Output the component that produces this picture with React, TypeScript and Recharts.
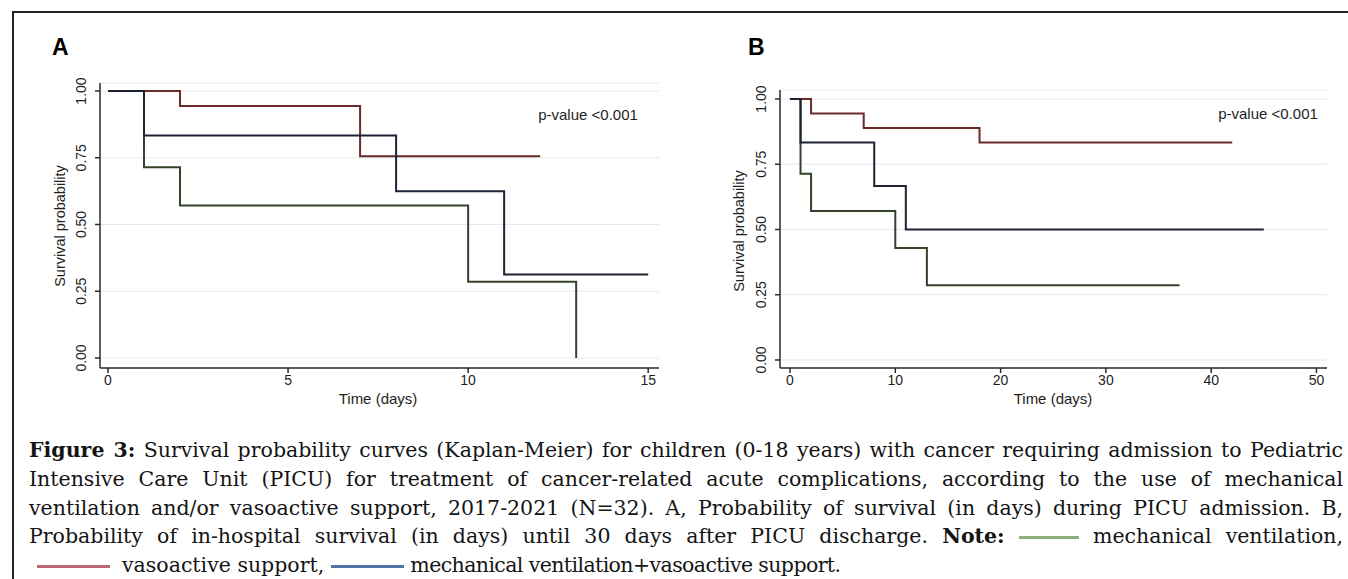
import { LineChart, Line, XAxis, YAxis, CartesianGrid } from 'recharts';

// A: survival during PICU admission (days)
const A_VASO_DAYS = [0, 2, 7, 12];
const A_VASO_SURV = [1, 0.944, 0.756, 0.756];
const A_MVVA_DAYS = [0, 1, 8, 11, 15];
const A_MVVA_SURV = [1, 0.833, 0.625, 0.3125, 0.3125];
const A_MV_DAYS = [0, 1, 2, 10, 13];
const A_MV_SURV = [1, 0.714, 0.571, 0.286, 0];
const A_X_TICKS = [0, 5, 10, 15];

// B: in-hospital survival until 30 days after PICU discharge
const B_VASO_DAYS = [0, 2, 7, 18, 42];
const B_VASO_SURV = [1, 0.944, 0.889, 0.833, 0.833];
const B_MVVA_DAYS = [0, 1, 8, 11, 45];
const B_MVVA_SURV = [1, 0.833, 0.667, 0.5, 0.5];
const B_MV_DAYS = [0, 1, 2, 10, 13, 37];
const B_MV_SURV = [1, 0.714, 0.571, 0.429, 0.286, 0.286];
const B_X_TICKS = [0, 10, 20, 30, 40, 50];

const Y_TICKS = [0, 0.25, 0.5, 0.75, 1];

const COLORS = { mv: '#34432a', vaso: '#6b2b2b', mvva: '#1c2335' };
const AXIS = '#2b2b2b';
const SANS = '"Liberation Sans", Arial, sans-serif';

const toPoints = (days: number[], surv: number[]) => days.map((t, i) => ({ t, s: surv[i] }));

const YTick = (props: any) => {
  const { x, y, payload } = props;
  const cx = x - 11.5;
  return (
    <text
      x={cx}
      y={y}
      transform={`rotate(-90 ${cx} ${y})`}
      textAnchor="middle"
      dominantBaseline="central"
      fontSize={14}
      fontFamily={SANS}
      fill="#1e1e1e"
    >
      {Number(payload.value).toFixed(2)}
    </text>
  );
};

function KmPanel({ left, width, plotTop, plotRight, domainX, domainY, ticksX, series }: any) {
  return (
    <div style={{ position: 'absolute', left, top: 0 }}>
      <LineChart width={width} height={400} margin={{ top: plotTop, right: plotRight, bottom: 0, left: 0 }}>
        <CartesianGrid vertical={false} stroke="#e2eaec" />
        <XAxis
          type="number"
          dataKey="t"
          domain={domainX}
          ticks={ticksX}
          interval={0}
          allowDataOverflow
          height={32}
          tickSize={5}
          axisLine={{ stroke: AXIS, strokeWidth: 1.5 }}
          tickLine={{ stroke: AXIS, strokeWidth: 1.5 }}
          tick={{ fill: '#1e1e1e', fontSize: 14, fontFamily: SANS }}
        />
        <YAxis
          type="number"
          domain={domainY}
          ticks={Y_TICKS}
          interval={0}
          allowDataOverflow
          width={100}
          tickSize={5}
          axisLine={{ stroke: AXIS, strokeWidth: 1.5 }}
          tickLine={{ stroke: AXIS, strokeWidth: 1.5 }}
          tick={YTick}
        />
        {series.map((sr: any) => (
          <Line
            key={sr.name}
            data={sr.data}
            dataKey="s"
            type="stepAfter"
            stroke={sr.color}
            strokeWidth={2}
            dot={false}
            isAnimationActive={false}
          />
        ))}
      </LineChart>
    </div>
  );
}

const label = (text: string, cx: number, cy: number, extra: any = {}) => (
  <div
    style={{
      position: 'absolute',
      left: cx,
      top: cy,
      transform: 'translate(-50%, -50%)',
      whiteSpace: 'nowrap',
      fontFamily: SANS,
      fontSize: 14.5,
      color: '#1e1e1e',
      lineHeight: 1,
      ...extra,
    }}
  >
    {text}
  </div>
);

const swatch = (color: string, w: number) => (
  <span style={{ display: 'inline-block', width: w, height: 3, background: color, verticalAlign: 'middle' }} />
);

const lineStyle: any = { textAlign: 'justify', textAlignLast: 'justify', height: 28.75 };

export default function App() {
  const seriesA = [
    { name: 'mv', color: COLORS.mv, data: toPoints(A_MV_DAYS, A_MV_SURV) },
    { name: 'vaso', color: COLORS.vaso, data: toPoints(A_VASO_DAYS, A_VASO_SURV) },
    { name: 'mvva', color: COLORS.mvva, data: toPoints(A_MVVA_DAYS, A_MVVA_SURV) },
  ];
  const seriesB = [
    { name: 'mv', color: COLORS.mv, data: toPoints(B_MV_DAYS, B_MV_SURV) },
    { name: 'vaso', color: COLORS.vaso, data: toPoints(B_VASO_DAYS, B_VASO_SURV) },
    { name: 'mvva', color: COLORS.mvva, data: toPoints(B_MVVA_DAYS, B_MVVA_SURV) },
  ];

  return (
    <div style={{ position: 'absolute', left: 0, top: 0, width: 1348, height: 579, background: '#fff', overflow: 'hidden' }}>
      <div
        style={{
          position: 'absolute',
          left: 12,
          top: 11,
          width: 1348,
          height: 600,
          borderTop: '2px solid #222',
          borderLeft: '2px solid #222',
        }}
      />

      <KmPanel
        left={0}
        width={680}
        plotTop={83}
        plotRight={21}
        domainX={[-0.222, 15.3]}
        domainY={[-0.0375, 1.03]}
        ticksX={A_X_TICKS}
        series={seriesA}
      />
      <KmPanel
        left={680}
        width={668}
        plotTop={90}
        plotRight={21}
        domainX={[-0.95, 51]}
        domainY={[-0.0307, 1.0345]}
        ticksX={B_X_TICKS}
        series={seriesB}
      />

      <div style={{ position: 'absolute', left: 52, top: 36, fontFamily: SANS, fontWeight: 700, fontSize: 23, lineHeight: 1 }}>A</div>
      <div style={{ position: 'absolute', left: 748, top: 36, fontFamily: SANS, fontWeight: 700, fontSize: 23, lineHeight: 1 }}>B</div>

      {label('p-value <0.001', 588, 114, { fontSize: 15 })}
      {label('p-value <0.001', 1268, 113, { fontSize: 15 })}

      {label('Survival probability', 60, 226, { transform: 'translate(-50%, -50%) rotate(-90deg)' })}
      {label('Survival probability', 739, 231, { transform: 'translate(-50%, -50%) rotate(-90deg)' })}
      {label('Time (days)', 378, 398, { fontSize: 15 })}
      {label('Time (days)', 1053, 398, { fontSize: 15 })}

      <div
        style={{
          position: 'absolute',
          left: 29,
          top: 436,
          width: 1314,
          fontFamily: '"DejaVu Serif", serif',
          fontSize: 20.5,
          lineHeight: '28.75px',
          color: '#141414',
        }}
      >
        <div style={lineStyle}>
          <b>Figure 3:</b> Survival probability curves (Kaplan-Meier) for children (0-18 years) with cancer requiring admission to Pediatric
        </div>
        <div style={lineStyle}>
          Intensive Care Unit (PICU) for treatment of cancer-related acute complications, according to the use of mechanical
        </div>
        <div style={lineStyle}>
          ventilation and/or vasoactive support, 2017-2021 (N=32). A, Probability of survival (in days) during PICU admission. B,
        </div>
        <div style={lineStyle}>
          Probability of in-hospital survival (in days) until 30 days after PICU discharge. <b>Note:</b> {swatch('#8fae7c', 60)} mechanical ventilation,
        </div>
        <div style={{ paddingLeft: 8, whiteSpace: 'nowrap' }}>
          {swatch('#b9686f', 73)}
          <span style={{ marginLeft: 12 }}>vasoactive support,</span> {swatch('#4d75a6', 73)}{' '}
          <span style={{ letterSpacing: -0.6 }}>mechanical ventilation+vasoactive support.</span>
        </div>
      </div>
    </div>
  );
}
